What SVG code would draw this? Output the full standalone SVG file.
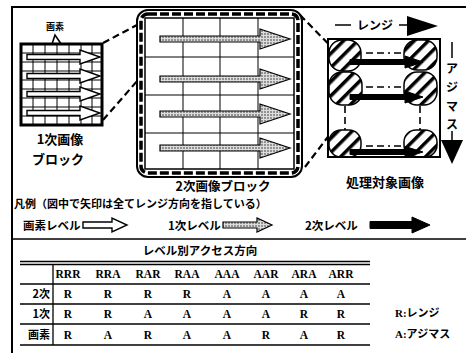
<svg xmlns="http://www.w3.org/2000/svg" width="466" height="353" viewBox="0 0 466 353">
<defs>
<pattern id="blobHatch" patternUnits="userSpaceOnUse" width="10" height="10" patternTransform="rotate(45)">
<rect width="10" height="10" fill="#fff"/>
<rect x="0" y="0" width="3.5" height="10" fill="#000"/>
</pattern>
<pattern id="stip" patternUnits="userSpaceOnUse" width="3" height="3">
<rect width="3" height="3" fill="#ddd"/>
<circle cx="1" cy="1" r="0.8" fill="#333"/>
</pattern>
<style>
.jp{font-family:"Noto Sans CJK JP","Noto Sans",sans-serif;font-weight:700;fill:#000}
.tb{font-family:"Liberation Serif",serif;font-weight:700;font-size:11.5px;text-anchor:middle;fill:#000}
.dash{fill:none;stroke:#000;stroke-width:2.2;stroke-dasharray:7 4}
.dd{fill:none;stroke:#000;stroke-width:1.6;stroke-dasharray:7 4 7 4 2 4}
.grid{stroke:#000;stroke-width:1;fill:none}
.wa{fill:#fff;stroke:#000;stroke-width:1.4}
.ga{fill:url(#stip);stroke:#000;stroke-width:1.2}
.ba{fill:#000;stroke:#000;stroke-width:1}
.blob{fill:url(#blobHatch);stroke:#000;stroke-width:1.5}
.rule{stroke:#000;stroke-width:1.3}
</style>
</defs>
<rect width="466" height="353" fill="#fff"/>

<g id="frame" fill="none" stroke="#000">
<path d="M12,353 V7 H466" stroke-width="2"/>
<line x1="12" y1="239" x2="466" y2="239" stroke-width="1.5"/>
</g>

<g id="connectors">
<line class="dash" x1="103" y1="43" x2="137" y2="25"/>
<line class="dash" x1="103" y1="120" x2="138" y2="80"/>
<line class="dash" x1="300" y1="15" x2="356" y2="72"/>
<line class="dash" x1="305" y1="167" x2="356" y2="100"/>
</g>

<g id="pixel-label">
<text class="jp" x="55" y="30" font-size="9" text-anchor="middle">画素</text>
<polyline points="48,56 55,35 68,54" fill="none" stroke="#000" stroke-width="1.6"/>
</g>

<g id="block1">
<rect x="21" y="44" width="81" height="81" fill="#fff" stroke="#000" stroke-width="3"/>
<path class="grid" d="M33,44V125M45,44V125M57,44V125M69,44V125M81,44V125M92,44V125M21,53H102M21,62H102M21,71H102M21,80H102M21,89H102M21,98H102M21,107H102M21,116H102"/>
<path class="wa" d="M27,54.5 H80 V50 L100,57 L80,64 V59.5 H27 Z"/>
<path class="wa" d="M27,73.5 H80 V69 L100,76 L80,83 V78.5 H27 Z"/>
<path class="wa" d="M27,91.5 H80 V87 L100,94 L80,101 V96.5 H27 Z"/>
<path class="wa" d="M27,110.5 H80 V106 L100,113 L80,120 V115.5 H27 Z"/>
<text class="jp" x="60" y="144" font-size="13" text-anchor="middle">1次画像</text>
<text class="jp" x="58" y="164" font-size="13" text-anchor="middle">ブロック</text>
</g>

<g id="block2">
<rect x="137" y="10" width="165" height="167" rx="11" fill="#fff" stroke="#000" stroke-width="2"/>
<rect x="141" y="14" width="157" height="159" rx="7" fill="none" stroke="#000" stroke-width="3.5" stroke-dasharray="9 3"/>
<rect x="145" y="18" width="149" height="151" fill="#fff" stroke="#000" stroke-width="1.5"/>
<path class="grid" stroke-width="1.6" d="M183,18V169M220,18V169M258,18V169M145,57H294M145,95H294M145,133H294"/>
<path class="ga" d="M160,36 H260 V29 L290,39 L260,49 V42 H160 Z"/>
<path class="ga" d="M160,76 H260 V69 L290,79 L260,89 V82 H160 Z"/>
<path class="ga" d="M160,111 H260 V104 L290,114 L260,124 V117 H160 Z"/>
<path class="ga" d="M160,145 H260 V138 L290,148 L260,158 V151 H160 Z"/>
<text class="jp" x="223" y="191" font-size="12.5" text-anchor="middle">2次画像ブロック</text>
</g>

<g id="target">
<rect x="328" y="39" width="112" height="118" fill="#fff" stroke="none"/>
<rect class="blob" x="329" y="40" width="32" height="31" rx="13"/>
<rect class="blob" x="329" y="72" width="33" height="33" rx="13"/>
<rect class="blob" x="329" y="130" width="32" height="27" rx="12"/>
<rect class="blob" x="404" y="40" width="33" height="30" rx="13"/>
<rect class="blob" x="404" y="72" width="33" height="33" rx="13"/>
<rect class="blob" x="404" y="130" width="33" height="27" rx="12"/>
<path class="dd" d="M366,53 H402 M366,87 H402 M366,146 H402"/>
<path class="dd" d="M345,106 V130 M420,106 V130"/>
<path class="ba" d="M350,59.5 H405 V56 L423,62 L405,68 V64.5 H350 Z"/>
<path class="ba" d="M350,94.5 H405 V91 L423,97 L405,103 V99.5 H350 Z"/>
<path class="ba" d="M350,149.5 H405 V146.5 L423,152 L405,157.5 V154.5 H350 Z"/>
<rect x="328" y="39" width="112" height="118" fill="none" stroke="#000" stroke-width="2"/>
<text class="jp" x="385" y="187" font-size="13" text-anchor="middle">処理対象画像</text>
</g>

<g id="range-arrow">
<path d="M335,25 H351 M399,25 H410" stroke="#000" stroke-width="1.5"/>
<polygon points="407,16 438,26 407,36" fill="#000"/>
<text class="jp" x="375" y="30" font-size="12" text-anchor="middle">レンジ</text>
</g>

<g id="azimuth-arrow">
<path d="M452,42 V58 M452,131 V141" stroke="#000" stroke-width="1.5"/>
<polygon points="441,140 463,140 452,164" fill="#000"/>
<g class="jp" font-size="12" text-anchor="middle">
<text x="452" y="73">ア</text>
<text x="452" y="92">ジ</text>
<text x="452" y="111">マ</text>
<text x="452" y="129">ス</text>
</g>
</g>

<g id="legend">
<text class="jp" x="14" y="208" font-size="11">凡例（図中で矢印は全てレンジ方向を指している）</text>
<text class="jp" x="23" y="230" font-size="11.5">画素レベル</text>
<path class="wa" d="M83,222 H112 V218 L127,225 L112,232 V228 H83 Z"/>
<text class="jp" x="168" y="230" font-size="11.5">1次レベル</text>
<path class="ga" d="M223,222 H257 V218 L272,225 L257,232 V228 H223 Z"/>
<text class="jp" x="305" y="230" font-size="11.5">2次レベル</text>
<path class="ba" d="M370,221.5 H412 V217 L430,225 L412,233 V228.5 H370 Z"/>
</g>

<g id="table">
<text class="jp" x="200" y="255" font-size="11.5" text-anchor="middle">レベル別アクセス方向</text>
<line class="rule" x1="20" y1="261.5" x2="370" y2="261.5"/>
<line class="rule" x1="20" y1="264.5" x2="370" y2="264.5"/>
<line class="rule" x1="53" y1="265" x2="53" y2="345"/>
<line class="rule" x1="20" y1="284" x2="370" y2="284"/>
<line class="rule" x1="20" y1="304" x2="370" y2="304"/>
<line class="rule" x1="20" y1="324" x2="370" y2="324"/>
<line class="rule" x1="20" y1="345" x2="370" y2="345"/>
<g class="tb">
<text x="68" y="278">RRR</text><text x="108" y="278">RRA</text><text x="148" y="278">RAR</text><text x="187" y="278">RAA</text><text x="227" y="278">AAA</text><text x="266" y="278">AAR</text><text x="304" y="278">ARA</text><text x="341" y="278">ARR</text>
<text x="68" y="298">R</text><text x="108" y="298">R</text><text x="148" y="298">R</text><text x="187" y="298">R</text><text x="227" y="298">A</text><text x="266" y="298">A</text><text x="304" y="298">A</text><text x="341" y="298">A</text>
<text x="68" y="318">R</text><text x="108" y="318">R</text><text x="148" y="318">A</text><text x="187" y="318">A</text><text x="227" y="318">A</text><text x="266" y="318">A</text><text x="304" y="318">R</text><text x="341" y="318">R</text>
<text x="68" y="339">R</text><text x="108" y="339">A</text><text x="148" y="339">R</text><text x="187" y="339">A</text><text x="227" y="339">A</text><text x="266" y="339">R</text><text x="304" y="339">A</text><text x="341" y="339">R</text>
</g>
<g class="jp" font-size="11" text-anchor="end">
<text x="50" y="298">2次</text>
<text x="50" y="318">1次</text>
<text x="50" y="339">画素</text>
</g>
<text x="395" y="317" font-size="11" style="font-family:'Liberation Serif','Noto Sans CJK JP',serif;font-weight:700">R:<tspan class="jp">レンジ</tspan></text>
<text x="395" y="338" font-size="11" style="font-family:'Liberation Serif','Noto Sans CJK JP',serif;font-weight:700">A:<tspan class="jp">アジマス</tspan></text>
</g>
</svg>
